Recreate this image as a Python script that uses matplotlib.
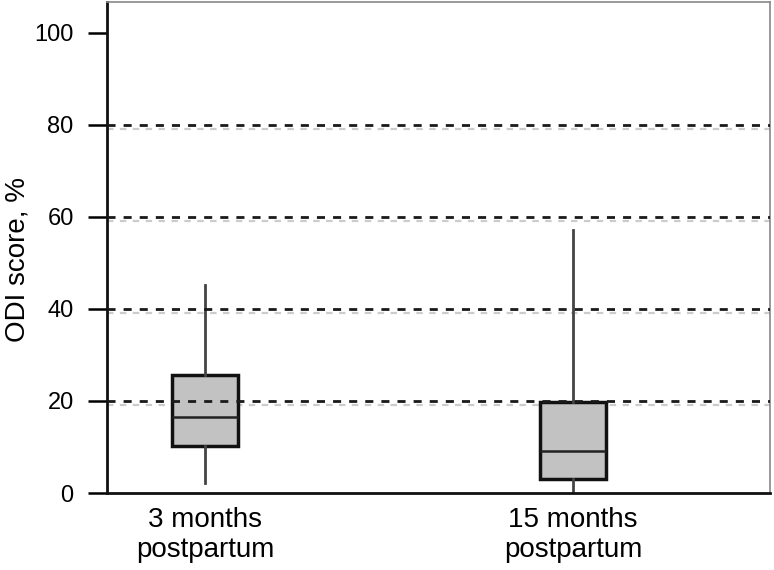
import matplotlib
matplotlib.use("Agg")
import matplotlib.pyplot as plt

plt.rcParams['font.family'] = ['Liberation Sans', 'DejaVu Sans']

categories = ["3 months\npostpartum", "15 months\npostpartum"]
whisker_low = [2.2, 0.0]
q1 = [10.2, 3.0]
median = [16.5, 9.1]
q3 = [25.7, 19.8]
whisker_high = [45.2, 57.2]
ref_lines = [20, 40, 60, 80]
yticks = [0, 20, 40, 60, 80, 100]

fig = plt.figure(figsize=(7.74, 5.70), dpi=100)
ax = fig.add_axes([107/774, 1-493/570, (770-107)/774, (493-2)/570])

# reference dashed lines (black with faint gray shadow)
for v in ref_lines:
    ax.axhline(v - 0.9, color='#cccccc', lw=1.6, ls=(0, (2.9, 2.9)), zorder=1)
    ax.axhline(v, color='#1a1a1a', lw=2.0, ls=(0, (2.9, 2.9)), zorder=3)

stats = []
for i in range(len(categories)):
    stats.append(dict(med=median[i], q1=q1[i], q3=q3[i],
                      whislo=whisker_low[i], whishi=whisker_high[i],
                      fliers=[], label=categories[i]))

ax.bxp(stats, positions=[1, 2], widths=0.177, showcaps=False,
       patch_artist=True, zorder=2,
       boxprops=dict(facecolor='#c2c2c2', edgecolor='#111111', linewidth=2.5),
       medianprops=dict(color='#222222', linewidth=1.8),
       whiskerprops=dict(color='#444444', linewidth=2.0))

ax.set_xlim(0.734, 2.535)
ax.set_ylim(0, 106.7)
ax.set_yticks(yticks)
ax.set_yticklabels([str(t) for t in yticks])
ax.set_xticks([1, 2])
ax.set_xticklabels(categories, fontsize=20, linespacing=1.2)
ax.tick_params(axis='y', labelsize=17, length=14, width=1.8, direction='out', pad=10)
ax.tick_params(axis='x', length=0, pad=10)
fig.text(18/774, 1-260/570, "ODI score, %", fontsize=20, rotation=90,
         ha='center', va='center')

for s in ['left', 'bottom']:
    ax.spines[s].set_linewidth(2.0)
    ax.spines[s].set_color('#111111')
for s in ['top', 'right']:
    ax.spines[s].set_linewidth(1.2)
    ax.spines[s].set_color('#888888')

fig.savefig("out.png", dpi=100)
